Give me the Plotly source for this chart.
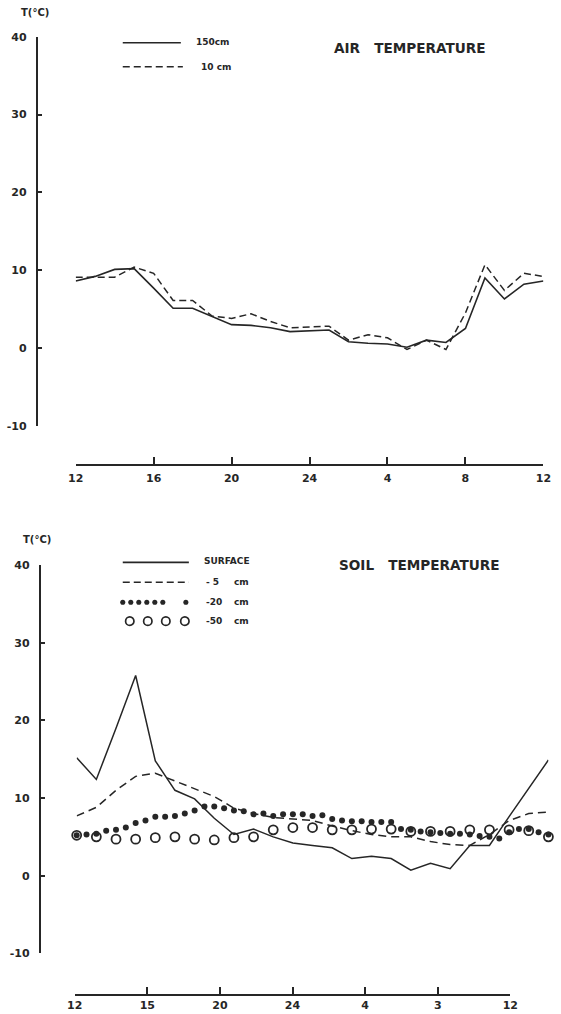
import plotly.graph_objects as go

W, H = 561, 1014

# ---------------- data ----------------
hours = list(range(12, 37))                      # hourly, 12 h -> 12 h next day
half_hours = [12 + 0.5 * i for i in range(49)]   # half-hourly

air_150 = [8.6, 9.2, 10.1, 10.2, 7.7, 5.1, 5.1, 4.1, 3.0, 2.9, 2.6, 2.1, 2.2,
           2.3, 0.8, 0.6, 0.5, 0.1, 1.0, 0.7, 2.5, 9.0, 6.3, 8.2, 8.6]
air_10 = [9.1, 9.1, 9.1, 10.4, 9.6, 6.1, 6.1, 4.1, 3.8, 4.4, 3.4, 2.6, 2.7,
          2.8, 1.0, 1.7, 1.3, -0.2, 1.0, -0.2, 4.5, 10.7, 7.4, 9.6, 9.2]

soil_surface = [15.2, 12.4, 19.0, 25.8, 14.8, 11.0, 9.9, 7.4, 5.3, 6.0, 5.0, 4.2, 3.9,
                3.6, 2.2, 2.5, 2.2, 0.7, 1.6, 0.9, 3.9, 3.9, 7.6, 11.3, 14.9]
soil_5 = [7.7, 8.8, 11.0, 12.8, 13.2, 12.2, 11.1, 10.2, 8.7, 8.0, 7.5, 7.3, 7.1,
          6.4, 5.8, 5.3, 5.0, 5.0, 4.4, 4.0, 3.9, 5.3, 7.1, 8.0, 8.2]
soil_20 = [5.2, 5.3, 5.4, 5.8, 5.9, 6.2, 6.8, 7.1, 7.6, 7.6, 7.7, 8.0, 8.4, 8.9, 8.9,
           8.7, 8.4, 8.3, 7.9, 8.0, 7.7, 7.9, 7.9, 7.9, 7.7, 7.8, 7.3, 7.1, 7.0, 7.0,
           6.9, 6.9, 6.9, 6.0, 5.9, 5.7, 5.6, 5.5, 5.4, 5.4, 5.3, 5.1, 5.0, 4.8, 5.6,
           6.0, 6.0, 5.6, 5.3]
soil_50 = [5.2, 5.0, 4.7, 4.7, 4.9, 5.0, 4.7, 4.6, 4.9, 5.0, 5.9, 6.2, 6.2,
           5.9, 5.9, 6.0, 6.0, 5.7, 5.7, 5.7, 5.9, 5.9, 5.9, 5.8, 5.0]

y_tickvals = [-10, 0, 10, 20, 30, 40]
y_ticktext = ["-10", "0", "10", "20", "30", "40"]
top_x_tickvals = [12, 16, 20, 24, 28, 32, 36]
top_x_ticktext = ["12", "16", "20", "24", "4", "8", "12"]
bottom_x_ticktext = ["12", "15", "20", "24", "4", "3", "12"]

# ---------------- style ----------------
INK = "#262626"
FONT = "DejaVu Sans"


def X(p):
    return 280.5 + (p - 280.5) / 0.97


def Y(p):
    return 507 + (p - 507) / 0.99


def fx(p):
    return X(p) / W


def fy(p):
    return 1 - Y(p) / H


fig = go.Figure()

# top: air temperature
fig.add_trace(go.Scatter(x=hours, y=air_150, mode="lines", xaxis="x", yaxis="y",
                         line=dict(color=INK, width=1.6), showlegend=False, hoverinfo="skip"))
fig.add_trace(go.Scatter(x=hours, y=air_10, mode="lines", xaxis="x", yaxis="y",
                         line=dict(color=INK, width=1.5, dash="7px,4px"),
                         showlegend=False, hoverinfo="skip"))

# bottom: soil temperature
fig.add_trace(go.Scatter(x=hours, y=soil_surface, mode="lines", xaxis="x2", yaxis="y2",
                         line=dict(color=INK, width=1.5), showlegend=False, hoverinfo="skip"))
fig.add_trace(go.Scatter(x=hours, y=soil_5, mode="lines", xaxis="x2", yaxis="y2",
                         line=dict(color=INK, width=1.5, dash="8px,5px"),
                         showlegend=False, hoverinfo="skip"))
fig.add_trace(go.Scatter(x=hours, y=soil_50, mode="markers", xaxis="x2", yaxis="y2",
                         marker=dict(symbol="circle-open", size=9, color=INK,
                                     line=dict(width=1.8, color=INK)),
                         showlegend=False, hoverinfo="skip", cliponaxis=False))
fig.add_trace(go.Scatter(x=half_hours, y=soil_20, mode="markers", xaxis="x2", yaxis="y2",
                         marker=dict(symbol="circle", size=6, color=INK),
                         showlegend=False, hoverinfo="skip", cliponaxis=False))
# empty trace registering the bottom display axis
fig.add_trace(go.Scatter(x=[], y=[], xaxis="x3", yaxis="y2", showlegend=False))

tickfont = dict(family=FONT, size=11, color=INK, weight="bold")
axis_common = dict(showgrid=False, zeroline=False, showline=True, linecolor=INK,
                   linewidth=1.6, ticks="inside", tickcolor=INK, tickwidth=1.6,
                   tickfont=tickfont, fixedrange=True)

fig.update_layout(
    width=W, height=H, autosize=False,
    margin=dict(l=0, r=0, t=0, b=0),
    paper_bgcolor="white", plot_bgcolor="rgba(0,0,0,0)",
    xaxis=dict(domain=[fx(76), fx(543)], range=[12, 36], anchor="free",
               position=fy(465), tickvals=top_x_tickvals, ticktext=top_x_ticktext,
               ticklen=7, ticklabelstandoff=3, **axis_common),
    yaxis=dict(domain=[fy(426), fy(36)], range=[-10, 40], anchor="free",
               position=fx(37), tickvals=y_tickvals, ticktext=y_ticktext,
               ticklen=5, ticklabelstandoff=7, **axis_common),
    xaxis2=dict(domain=[fx(77), fx(548)], range=[12, 36], anchor="y2", visible=False,
                fixedrange=True),
    yaxis2=dict(domain=[fy(955), fy(566)], range=[-10, 40], anchor="free",
                position=fx(40), tickvals=y_tickvals, ticktext=y_ticktext,
                ticklen=5, ticklabelstandoff=7, **axis_common),
    xaxis3=dict(domain=[fx(75), fx(510)], range=[0, 6], anchor="free",
                position=fy(997), tickvals=[0, 1, 2, 3, 4, 5, 6],
                ticktext=bottom_x_ticktext, ticklen=7, ticklabelstandoff=0,
                **axis_common),
)

ann = []
shapes = []


def text(x, y, s, size=11, xanchor="left", bold=True):
    ann.append(dict(x=fx(x), y=fy(y), xref="paper", yref="paper", text=s,
                    showarrow=False, xanchor=xanchor, yanchor="middle",
                    font=dict(family=FONT, size=size, color=INK,
                              weight="bold" if bold else "normal")))


def hline(x0, x1, y, dash="solid", width=1.6):
    shapes.append(dict(type="line", xref="paper", yref="paper",
                       x0=fx(x0), x1=fx(x1), y0=fy(y), y1=fy(y),
                       line=dict(color=INK, width=width, dash=dash)))


def dot(x, y, r, filled):
    shapes.append(dict(type="circle", xref="paper", yref="paper",
                       x0=fx(x) - r / W, x1=fx(x) + r / W,
                       y0=fy(y) - r / H, y1=fy(y) + r / H,
                       fillcolor=INK if filled else "rgba(0,0,0,0)",
                       line=dict(color=INK, width=0 if filled else 1.7)))


# axis titles
text(19, 12, "T(°C)", size=10)
text(21, 540, "T(°C)", size=10)

# top legend and title
hline(123, 181, 42)
text(194, 41, "150cm", size=9)
hline(123, 183, 66, dash="7px,4px")
text(199, 66, "10 cm", size=9)
text(332, 47, "AIR\u00a0\u00a0\u00a0TEMPERATURE", size=13.6)

# bottom legend and title
hline(123, 189, 563)
text(202, 562, "SURFACE", size=9)
hline(123, 189, 583, dash="7px,4px")
text(204, 583, "- 5", size=9)
dot_x = [123, 131, 139, 147, 155, 163, 186]
for xx in dot_x:
    dot(xx, 603, 2.6, True)
text(204, 603, "-20", size=9)
for xx in [130, 148, 166, 185]:
    dot(xx, 622, 4.3, False)
text(204, 622, "-50", size=9)
for yy in [583, 603, 622]:
    text(232, yy, "cm", size=9)
text(337, 566, "SOIL\u00a0\u00a0\u00a0TEMPERATURE", size=13.6)

fig.update_layout(annotations=ann, shapes=shapes)

fig.write_html("out.html")
